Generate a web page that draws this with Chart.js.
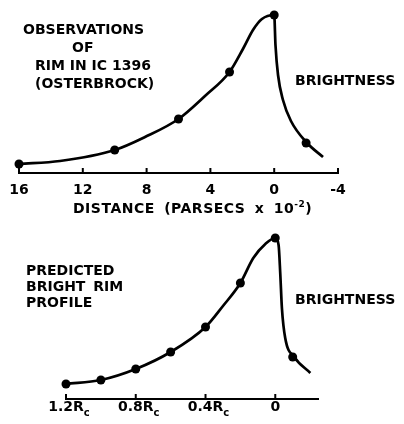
<!DOCTYPE html>
<html><head><meta charset="utf-8">
<script src="https://cdn.jsdelivr.net/npm/chart.js@4/dist/chart.umd.min.js"></script>
<style>
html,body{margin:0;padding:0;background:#fff;width:404px;height:424px;overflow:hidden}
#wrap{position:relative;width:404px;height:424px;background:#fff}
.box{position:absolute;left:0;width:404px}
.t{position:absolute;font-family:"DejaVu Sans";font-weight:bold;font-size:14px;line-height:16px;color:#000;white-space:nowrap}
</style></head><body>
<div id="wrap">
  <div class="box" style="top:0;height:218px"><canvas id="topChart"></canvas></div>
  <div class="box" style="top:218px;height:206px"><canvas id="botChart"></canvas></div>
  <div class="t" style="left:23px;top:21px">OBSERVATIONS</div>
  <div class="t" style="left:72px;top:39px">OF</div>
  <div class="t" style="left:35px;top:57px">RIM IN IC 1396</div>
  <div class="t" style="left:35px;top:75px">(OSTERBROCK)</div>
  <div class="t" style="left:295px;top:72px">BRIGHTNESS</div>
  <div class="t" style="left:73px;top:200px;word-spacing:4px;letter-spacing:0.5px">DISTANCE (PARSECS x 10<sup style="font-size:9px;line-height:0">-2</sup>)</div>
  <div class="t" style="left:26px;top:262px">PREDICTED</div>
  <div class="t" style="left:26px;top:278px;word-spacing:3px">BRIGHT RIM</div>
  <div class="t" style="left:26px;top:294px">PROFILE</div>
  <div class="t" style="left:295px;top:291px">BRIGHTNESS</div>
</div>
<script>
// ---- Observations of rim in IC 1396 (Osterbrock) ----
const obsDistance = [16, 10, 6, 2.8, 0, -2];
const obsBrightness = [9, 23, 54, 101, 158, 30];
const obsCurveDistance = [16, 13.43, 10, 8.1, 6, 4.34, 2.8, 1.96, 1.33, 0.77, 0, -0.08, -0.24, -0.55, -1.05, -2.06, -3.06];
const obsCurveBrightness = [9, 12, 23, 36, 54, 77, 101, 124, 143, 154, 158, 128, 98, 73, 52, 30, 16];
const obsTicks = [16, 12, 8, 4, 0, -4];

// ---- Predicted bright rim profile ----
const predRadius = [1.2, 1.0, 0.8, 0.6, 0.4, 0.2, 0, -0.1];
const predBrightness = [15, 19, 30, 47, 72, 116, 161, 42];
const predCurveRadius = [1.2, 1.0, 0.8, 0.6, 0.4, 0.3, 0.2, 0.126, 0.057, 0, -0.019, -0.029, -0.038, -0.057, -0.109, -0.201];
const predCurveBrightness = [15, 19, 30, 47, 72, 93, 116, 141, 155, 161, 154, 124, 91, 61, 42, 26];
const predTicks = [1.2, 0.8, 0.4, 0];

const FONT = {family: 'DejaVu Sans', weight: 'bold', size: 14, lineHeight: 1.2};
const pts = (xs, ys) => xs.map((x, i) => ({x: x, y: ys[i]}));

const upTicks = {
  id: 'upTicks',
  afterDraw(chart, args, opts) {
    const s = chart.scales.x, ctx = chart.ctx;
    ctx.save();
    ctx.strokeStyle = '#000';
    ctx.lineWidth = 2;
    s.ticks.forEach(t => {
      const px = s.getPixelForValue(t.value);
      ctx.beginPath();
      ctx.moveTo(px, s.top + 1);
      ctx.lineTo(px, s.top - 5);
      ctx.stroke();
    });
    if (opts && opts.sub) {
      s.ticks.forEach(t => {
        if (t.value === 0) return;
        ctx.font = 'bold 14px "DejaVu Sans"';
        const w = ctx.measureText(t.label).width;
        const px = s.getPixelForValue(t.value);
        ctx.font = 'bold 10px "DejaVu Sans"';
        ctx.fillStyle = '#000';
        ctx.textBaseline = 'alphabetic';
        ctx.fillText('c', px + w / 2, s.top + 17);
      });
    }
    ctx.restore();
  }
};

function makeChart(id, curveX, curveY, dotX, dotY, ticks, xmin, xmax, ymax, pad, axisH, tickPad, fmt, sub) {
  return new Chart(document.getElementById(id), {
    type: 'line',
    data: {
      datasets: [
        {data: pts(curveX, curveY), borderColor: '#000', borderWidth: 2.7, pointRadius: 0,
         cubicInterpolationMode: 'monotone', fill: false, clip: false},
        {data: pts(dotX, dotY), showLine: false, pointRadius: 4.5, pointBackgroundColor: '#000',
         pointBorderColor: '#000', borderWidth: 0, clip: false}
      ]
    },
    options: {
      responsive: true, maintainAspectRatio: false, animation: false,
      layout: {padding: pad},
      plugins: {legend: {display: false}, tooltip: {enabled: false}, upTicks: {sub: sub}},
      scales: {
        x: {
          type: 'linear', position: 'bottom', min: xmin, max: xmax, reverse: true,
          afterBuildTicks: s => { s.ticks = ticks.map(v => ({value: v})); },
          afterFit: s => { s.height = axisH; },
          grid: {display: false, drawTicks: false},
          border: {display: true, color: '#000', width: 2},
          ticks: {color: '#000', font: FONT, padding: tickPad, maxRotation: 0, autoSkip: false,
                  callback: fmt}
        },
        y: {display: false, min: 0, max: ymax}
      }
    },
    plugins: [upTicks]
  });
}

makeChart('topChart', obsCurveDistance, obsCurveBrightness, obsDistance, obsBrightness, obsTicks,
  -4, 16, 160, {left: 19, right: 66, top: 13, bottom: 0}, 45, 9,
  v => String(v), false);

makeChart('botChart', predCurveRadius, predCurveBrightness, predRadius, predBrightness, predTicks,
  -0.245, 1.2, 170, {left: 66, right: 86, top: 11, bottom: 0}, 25, 0,
  v => (v === 0 ? '0' : v.toFixed(1) + 'R'), true);
</script>
</body></html>
